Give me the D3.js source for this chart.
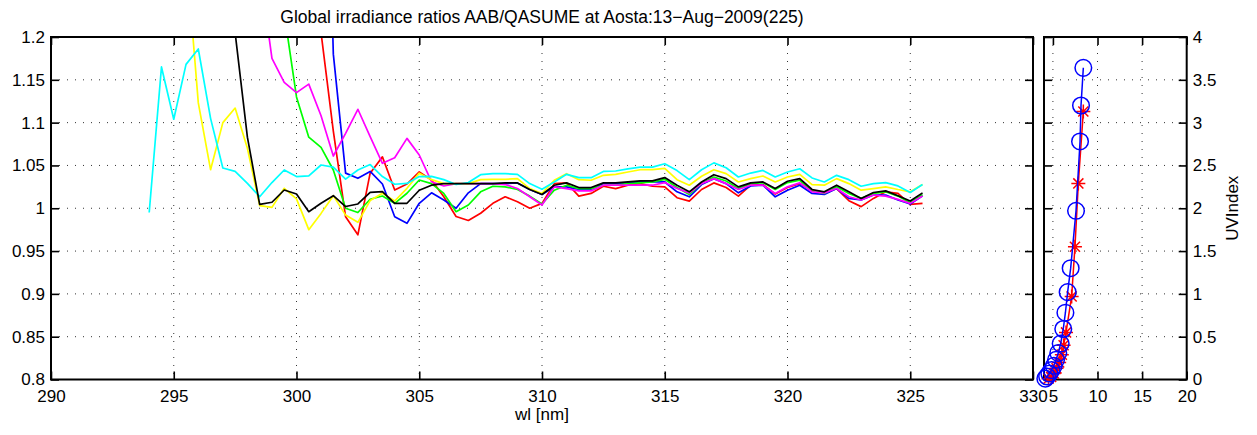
<!DOCTYPE html>
<html><head><meta charset="utf-8">
<script src="https://cdn.jsdelivr.net/npm/d3@7/dist/d3.min.js"></script>
<style>
html,body{margin:0;padding:0;background:#fff;}
svg{display:block;}
text{font-family:"Liberation Sans",Arial,Helvetica,sans-serif;fill:#000;}
</style>
</head><body>
<svg id="chart" width="1257" height="435"></svg>
<script>
// ---------- data ----------
const titleText = "Global irradiance ratios AAB/QASUME at Aosta:13\u2212Aug\u22122009(225)";
const xLabelText = "wl [nm]";
const uvLabelText = "UVIndex";

// wavelengths 294 .. 325.5 nm, 0.5 nm step
const wavelengths = [294,294.5,295,295.5,296,296.5,297,297.5,298,298.5,299,299.5,300,300.5,301,301.5,302,302.5,303,303.5,304,304.5,305,305.5,306,306.5,307,307.5,308,308.5,309,309.5,310,310.5,311,311.5,312,312.5,313,313.5,314,314.5,315,315.5,316,316.5,317,317.5,318,318.5,319,319.5,320,320.5,321,321.5,322,322.5,323,323.5,324,324.5,325,325.5];

const ratioRed = [null,null,null,null,null,null,null,null,null,null,null,null,null,1.6,1.205,1.09,0.99,0.969,1.041,1.060,1.0213,1.0283,1.0425,1.033,1.0134,0.9903,0.9857,0.9942,1.0057,1.0134,1.0076,1.0,1.0057,1.0288,1.0296,1.0142,1.0173,1.0257,1.023,1.0269,1.0288,1.0257,1.025,1.0123,1.0084,1.0219,1.0296,1.0242,1.0142,1.0269,1.0277,1.0165,1.0242,1.0288,1.0211,1.0173,1.023,1.0088,1.0019,1.0115,1.0192,1.0173,1.0046,1.0057];
const ratioBlue = [null,null,null,null,null,null,null,null,null,null,null,null,null,null,1.7,1.18,1.041,1.035,1.043,1.0283,0.99,0.9824,1.0058,1.018,1.0096,1.0,1.018,1.0288,1.0288,1.0288,1.0296,1.0219,1.0161,1.025,1.025,1.0219,1.0219,1.0288,1.0288,1.0296,1.0307,1.0307,1.0307,1.0192,1.0134,1.0277,1.0346,1.0288,1.018,1.0261,1.0269,1.0134,1.0211,1.0269,1.0173,1.0161,1.023,1.0115,1.0096,1.0154,1.0154,1.0096,1.005,1.0146];
const ratioGreen = [null,null,null,null,null,null,null,null,null,null,null,1.228,1.13,1.083,1.071,1.0447,1.0,0.995,1.0105,1.0143,1.0058,1.0175,1.033,1.0288,1.0173,0.996,1.0038,1.0192,1.0257,1.025,1.0219,1.0142,1.005,1.0211,1.0269,1.023,1.023,1.0269,1.0269,1.0288,1.0296,1.0307,1.0338,1.0242,1.0161,1.0288,1.0365,1.0319,1.023,1.0288,1.03,1.0219,1.03,1.0327,1.02,1.0173,1.025,1.0173,1.0115,1.0173,1.0192,1.0142,1.0065,1.0161];
const ratioMagenta = [null,null,null,null,null,null,null,null,null,1.28,1.175,1.147,1.135,1.145,1.108,1.061,1.0875,1.1156,1.0836,1.0525,1.059,1.0816,1.0622,1.031,1.026,1.0288,1.0288,1.0288,1.0288,1.0277,1.023,1.0134,1.0038,1.025,1.023,1.0203,1.0203,1.0269,1.0269,1.0269,1.0269,1.0269,1.03,1.023,1.018,1.0288,1.0346,1.0288,1.0219,1.0269,1.0269,1.0173,1.025,1.0296,1.0192,1.018,1.023,1.0134,1.0096,1.0154,1.0142,1.0103,1.0057,1.0142];
const ratioYellow = [null,null,null,1.30,1.123,1.045,1.10,1.117,1.07,1.003,1.001,1.0233,1.011,0.975,0.994,1.0147,0.992,0.9836,1.009,1.0175,1.0085,1.0233,1.041,1.0334,1.0288,1.0288,1.0288,1.0334,1.0338,1.0338,1.0346,1.023,1.0173,1.0327,1.0404,1.0334,1.0327,1.0385,1.0396,1.0423,1.045,1.045,1.0465,1.0334,1.0269,1.0373,1.045,1.0404,1.0307,1.0346,1.0377,1.0307,1.0365,1.0396,1.0277,1.0269,1.0346,1.0288,1.0211,1.023,1.025,1.0219,1.0192,1.0277];
const ratioCyan = [0.995,1.165,1.104,1.168,1.186,1.105,1.047,1.043,1.029,1.0135,1.030,1.0447,1.037,1.0377,1.0505,1.048,1.034,1.0447,1.051,1.037,1.028,1.029,1.037,1.0373,1.0334,1.0277,1.030,1.0392,1.0404,1.0404,1.0396,1.0288,1.0223,1.0307,1.0396,1.0357,1.0357,1.043,1.0435,1.046,1.048,1.048,1.052,1.044,1.0334,1.045,1.053,1.0473,1.0365,1.0411,1.0442,1.0365,1.0423,1.0461,1.0354,1.0307,1.0384,1.0334,1.0257,1.0288,1.030,1.0261,1.0184,1.0277];
const ratioBlack = [null,null,null,null,null,null,null,1.205,1.083,1.0046,1.007,1.0213,1.0166,0.996,1.0058,1.0147,1.002,1.005,1.0186,1.0194,1.0058,1.0058,1.021,1.0269,1.0288,1.0288,1.0288,1.0288,1.0288,1.0296,1.0296,1.0219,1.0161,1.0269,1.0296,1.0242,1.0242,1.0296,1.0296,1.0307,1.0319,1.0319,1.0358,1.0269,1.0192,1.0307,1.0392,1.0346,1.025,1.0296,1.0307,1.023,1.0315,1.0346,1.0219,1.0192,1.0269,1.0192,1.0115,1.0184,1.0203,1.0146,1.0084,1.018];

const seriesNames = ["red","blue","green","magenta","yellow","cyan","black"];
const seriesColors = ["#ff0000","#0000ff","#00ff00","#ff00ff","#ffff00","#00ffff","#000000"];
const seriesValues = [ratioRed,ratioBlue,ratioGreen,ratioMagenta,ratioYellow,ratioCyan,ratioBlack];

// tick labels
const xTicks = [290,295,300,305,310,315,320,325,330];
const yTicks = [0.8,0.85,0.9,0.95,1,1.05,1.1,1.15,1.2];
const yTickLabels = ["0.8","0.85","0.9","0.95","1","1.05","1.1","1.15","1.2"];

// right panel: UV index
const uvTicksX = [5,10,15,20];
const uvTicksY = [0,0.5,1,1.5,2,2.5,3,3.5,4];
const uvTickLabels = ["0","0.5","1","1.5","2","2.5","3","3.5","4"];
const uvBlueX = [4.15,4.35,4.6,4.85,5.1,5.35,5.6,5.87,6.16,6.4,6.65,6.99,7.59,8.04,8.15,8.41];
const uvBlueY = [0.01,0.035,0.07,0.11,0.16,0.23,0.31,0.42,0.59,0.78,1.02,1.30,1.97,2.78,3.2,3.64];
const uvRedX = [4.5,4.8,5.1,5.4,5.7,6.0,6.2,6.47,7.1,7.47,7.85,8.41];
const uvRedY = [0.01,0.03,0.07,0.13,0.2,0.29,0.4,0.55,0.97,1.55,2.29,3.13];

// ---------- drawing ----------
const svg = d3.select("#chart");
const FS = 17;

const L = 51, R = 1033, T = 37, B = 379.5;
const x = d3.scaleLinear().domain([290,330]).range([L,R]);
const y = d3.scaleLinear().domain([0.8,1.2]).range([B,T]);

const dotted = {stroke:"#333", "stroke-width":1, "stroke-dasharray":"1,7"};
function applyAttrs(sel, a){ for (const k in a) sel.attr(k,a[k]); return sel; }

// grid main
const gMain = svg.append("g");
xTicks.slice(1,-1).forEach(t => applyAttrs(gMain.append("line").attr("x1",x(t)).attr("x2",x(t)).attr("y1",T).attr("y2",B), dotted));
yTicks.slice(1,-1).forEach(t => applyAttrs(gMain.append("line").attr("x1",L).attr("x2",R).attr("y1",y(t)).attr("y2",y(t)), dotted));

// lines
svg.append("defs").append("clipPath").attr("id","clipMain")
  .append("rect").attr("x",L).attr("y",T).attr("width",R-L).attr("height",B-T);
const line = d3.line().defined(d => d[1] !== null).x(d => x(d[0])).y(d => y(d[1]));
const gLines = svg.append("g").attr("clip-path","url(#clipMain)");
seriesValues.forEach((vals,i) => {
  const pts = wavelengths.map((w,j) => [w, vals[j]]);
  gLines.append("path").datum(pts).attr("d", line)
    .attr("fill","none").attr("stroke", seriesColors[i]).attr("stroke-width",1.7)
    .attr("stroke-linejoin","round");
});

// axes main
function styleAxis(g){
  g.select(".domain").remove();
  g.selectAll(".tick line").attr("stroke","#000").attr("stroke-width",1.6);
  g.selectAll("text").style("font-size",FS+"px").attr("font-family",null);
}
svg.append("g").attr("transform",`translate(0,${B})`)
  .call(d3.axisBottom(x).tickValues(xTicks).tickSize(-8).tickPadding(10).tickFormat(d3.format("d")))
  .call(styleAxis);
svg.append("g").attr("transform",`translate(0,${T})`)
  .call(d3.axisTop(x).tickValues(xTicks).tickSize(-8).tickFormat(""))
  .call(styleAxis);
svg.append("g").attr("transform",`translate(${L},0)`)
  .call(d3.axisLeft(y).tickValues(yTicks).tickSize(-8).tickPadding(6).tickFormat((d,i)=>yTickLabels[i]))
  .call(styleAxis);
svg.append("g").attr("transform",`translate(${R},0)`)
  .call(d3.axisRight(y).tickValues(yTicks).tickSize(-8).tickFormat(""))
  .call(styleAxis);
svg.append("rect").attr("x",L).attr("y",T).attr("width",R-L).attr("height",B-T)
  .attr("fill","none").attr("stroke","#000").attr("stroke-width",2);

// title & label
svg.append("text").attr("x",(L+R)/2).attr("y",23).attr("text-anchor","middle")
  .style("font-size","17.5px").text(titleText);
svg.append("text").attr("x",(L+R)/2).attr("y",420).attr("text-anchor","middle")
  .style("font-size",FS+"px").text(xLabelText);

// ---------- right panel ----------
const L2 = 1044, R2 = 1186.7;
const x2 = d3.scaleLinear().domain([4,20]).range([L2,R2]);
const y2 = d3.scaleLinear().domain([0,4]).range([B,T]);
const gUV = svg.append("g");
uvTicksX.slice(0,-1).forEach(t => applyAttrs(gUV.append("line").attr("x1",x2(t)).attr("x2",x2(t)).attr("y1",T).attr("y2",B), dotted));
uvTicksY.slice(1,-1).forEach(t => applyAttrs(gUV.append("line").attr("x1",L2).attr("x2",R2).attr("y1",y2(t)).attr("y2",y2(t)), dotted));

svg.append("g").attr("transform",`translate(0,${B})`)
  .call(d3.axisBottom(x2).tickValues(uvTicksX).tickSize(-8).tickPadding(10).tickFormat(d3.format("d")))
  .call(styleAxis);
svg.append("g").attr("transform",`translate(0,${T})`)
  .call(d3.axisTop(x2).tickValues(uvTicksX).tickSize(-8).tickFormat(""))
  .call(styleAxis);
svg.append("g").attr("transform",`translate(${L2},0)`)
  .call(d3.axisLeft(y2).tickValues(uvTicksY).tickSize(-8).tickFormat(""))
  .call(styleAxis);
svg.append("g").attr("transform",`translate(${R2},0)`)
  .call(d3.axisRight(y2).tickValues(uvTicksY).tickSize(-8).tickPadding(6).tickFormat((d,i)=>uvTickLabels[i]))
  .call(styleAxis);
svg.append("rect").attr("x",L2).attr("y",T).attr("width",R2-L2).attr("height",B-T)
  .attr("fill","none").attr("stroke","#000").attr("stroke-width",2);

const lineUV = d3.line().x(d => x2(d[0])).y(d => y2(d[1]));
const redPts = uvRedX.map((v,i)=>[v,uvRedY[i]]);
const bluePts = uvBlueX.map((v,i)=>[v,uvBlueY[i]]);
svg.append("path").datum(redPts).attr("d",lineUV).attr("fill","none").attr("stroke","#ff0000").attr("stroke-width",1.5);
const s = 7;
const starPath = `M0,${-s}V${s}M${-s},0H${s}M${-s*0.72},${-s*0.72}L${s*0.72},${s*0.72}M${-s*0.72},${s*0.72}L${s*0.72},${-s*0.72}`;
svg.append("g").selectAll("path").data(redPts).join("path")
  .attr("transform",d=>`translate(${x2(d[0])},${y2(d[1])})`)
  .attr("d",starPath).attr("stroke","#ff0000").attr("stroke-width",1.5).attr("fill","none");
svg.append("path").datum(bluePts).attr("d",lineUV).attr("fill","none").attr("stroke","#0000ff").attr("stroke-width",1.5);
svg.append("g").selectAll("circle").data(bluePts).join("circle")
  .attr("cx",d=>x2(d[0])).attr("cy",d=>y2(d[1])).attr("r",8.3)
  .attr("fill","none").attr("stroke","#0000ff").attr("stroke-width",1.5);

svg.append("text").attr("transform",`translate(1238,${(T+B)/2}) rotate(-90)`)
  .attr("text-anchor","middle").style("font-size",FS+"px").text(uvLabelText);
</script>
</body></html>
